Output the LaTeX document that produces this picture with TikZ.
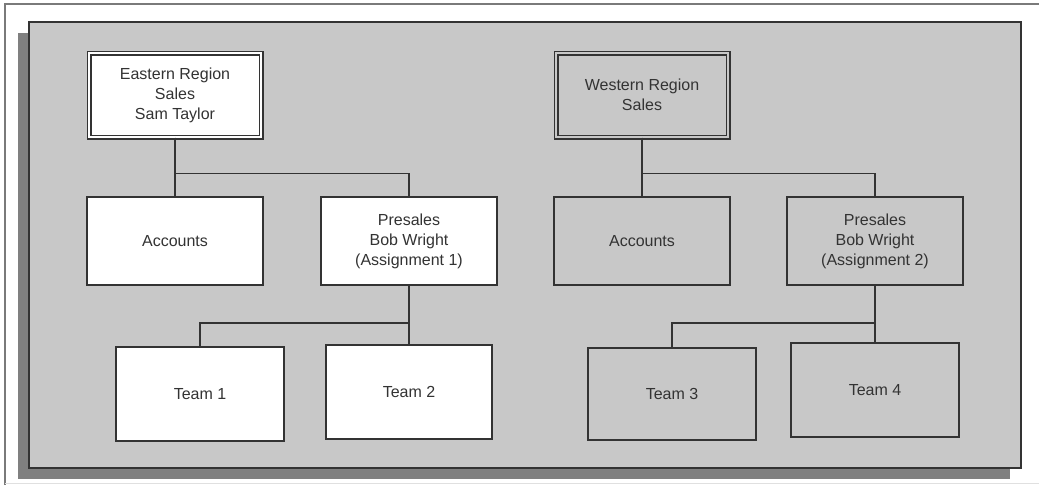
\documentclass[tikz,border=0pt]{standalone}
\usepackage{fontspec}
\setmainfont{Liberation Sans}
\begin{document}
\definecolor{panelgray}{HTML}{C8C8C8}
\definecolor{shadowgray}{HTML}{808080}
\definecolor{ink}{HTML}{333333}
\definecolor{framegray}{HTML}{7A7A7A}
\begin{tikzpicture}[x=1pt,y=-1pt,
  every node/.style={font=\fontsize{16}{20}\selectfont, text=ink, align=center, inner sep=0pt},
  unitbox/.style={draw=ink, line width=1.6pt},
  whitebox/.style={unitbox, fill=white},
  graybox/.style={unitbox, fill=panelgray},
  headbox/.style={draw=ink, line width=1.3pt, double distance=2.4pt, minimum width=172, minimum height=84},
  link/.style={draw=ink, line width=1.6pt}]
\useasboundingbox (0,0) rectangle (1039,485);
\fill[white] (0,0) rectangle (1039,485);
% outer frame edges
\draw[framegray, line width=2pt] (5,485) -- (5,4) -- (1039,4);
\draw[black!12, line width=1pt] (5,483) -- (1039,483);
% panel with its shadow
\fill[shadowgray] (18,33) rectangle (1010,479);
\draw[ink, line width=1.6pt, fill=panelgray] (29,22) rectangle (1021,468);

% eastern region
\node[headbox, fill=white, double=white] (east) at (175,95) {Eastern Region\\Sales\\Sam Taylor};
\node[whitebox, minimum width=176, minimum height=88] (accE) at (175,241) {Accounts};
\node[whitebox, minimum width=176, minimum height=88] (preE) at (409,241) {Presales\\Bob Wright\\(Assignment 1)};
\node[whitebox, minimum width=168, minimum height=94] (team1) at (200,394) {Team 1};
\node[whitebox, minimum width=166, minimum height=94] (team2) at (409,392) {Team 2};

% western region
\node[headbox, fill=panelgray, double=panelgray] (west) at (642,95) {Western Region\\Sales};
\node[graybox, minimum width=176, minimum height=88] (accW) at (642,241) {Accounts};
\node[graybox, minimum width=176, minimum height=88] (preW) at (875,241) {Presales\\Bob Wright\\(Assignment 2)};
\node[graybox, minimum width=168, minimum height=92] (team3) at (672,394) {Team 3};
\node[graybox, minimum width=168, minimum height=94] (team4) at (875,390) {Team 4};

% reporting lines
\draw[link] (east.south) -- (accE.north);
\draw[link] (east.south) -- ++(0,36) -| (preE.north);
\draw[link] (preE.south) -- (team2.north);
\draw[link] (preE.south) -- ++(0,37) -| (team1.north);
\draw[link] (west.south) -- (accW.north);
\draw[link] (west.south) -- ++(0,36) -| (preW.north);
\draw[link] (preW.south) -- (team4.north);
\draw[link] (preW.south) -- ++(0,37) -| (team3.north);
\end{tikzpicture}
\end{document}
